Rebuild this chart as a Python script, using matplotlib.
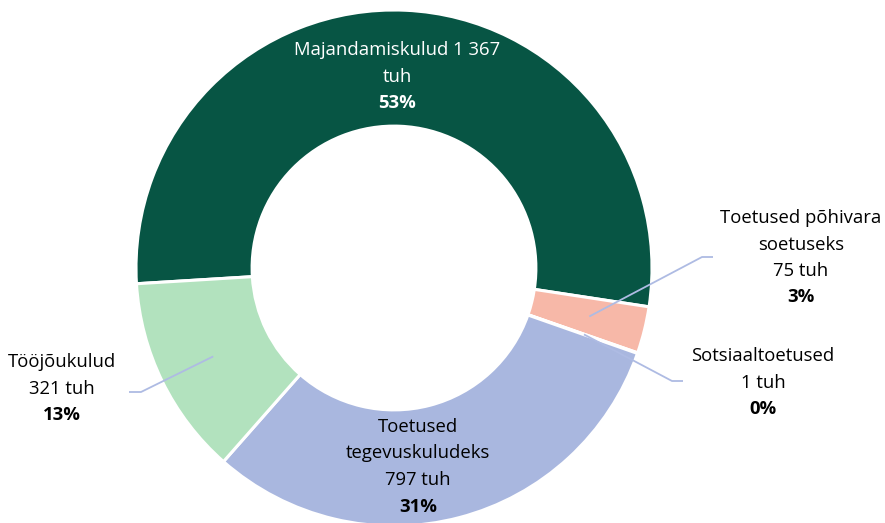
import numpy as np
import matplotlib
matplotlib.use("Agg")
import matplotlib.pyplot as plt

plt.rcParams['font.family'] = ['Open Sans', 'DejaVu Sans']

# ---- data ----
categories = ["Majandamiskulud", "Toetused põhivara soetuseks", "Sotsiaaltoetused",
              "Toetused tegevuskuludeks", "Tööjõukulud"]
values = [1367, 75, 1, 797, 321]
label_texts = ["Majandamiskulud 1 367\ntuh", "Toetused põhivara\nsoetuseks\n75 tuh",
               "Sotsiaaltoetused\n1 tuh", "Toetused\ntegevuskuludeks\n797 tuh",
               "Tööjõukulud\n321 tuh"]
pct_texts = ["53%", "3%", "0%", "31%", "13%"]
colors = ["#075544", "#F7B8A8", "#A9B7DF", "#A9B7DF", "#B2E2BE"]

W, H, DPI = 885, 523, 100
CX, CY, R = 394, 268, 258  # pixel geometry of the donut

fig = plt.figure(figsize=(W / DPI, H / DPI), dpi=DPI)
ax = fig.add_axes([0, 0, 1, 1])

start = 183.5
wedges, _ = ax.pie(values, colors=colors, startangle=start, counterclock=False,
                   radius=1.0, wedgeprops=dict(width=0.45, edgecolor='white', linewidth=2.2))

ax.set_xlim(-CX / R, (W - CX) / R)
ax.set_ylim(-(H - CY) / R, CY / R)
ax.set_aspect('equal')
ax.axis('off')

def d(px, py):
    return (px - CX) / R, (CY - py) / R

fs = 13.3
line_h = 26.5
lead_color = "#AEBBE3"

# label placements (pixel): center x, y of first line, text color, leader
placements = [
    (397, 50, 'white', None),
    (801, 218, 'black', [(702, 257), (713, 257)]),
    (763, 356, 'black', [(672, 381), (683, 381)]),
    (418, 427, 'black', None),
    (62, 362, 'black', [(141, 392), (129, 392)]),
]

for i, (txt, pct, (px, py, col, lead)) in enumerate(zip(label_texts, pct_texts, placements)):
    lines = txt.split("\n")
    for j, ln in enumerate(lines):
        x, y = d(px, py + j * line_h)
        ax.text(x, y, ln, ha='center', va='center', fontsize=fs, color=col)
    x, y = d(px, py + len(lines) * line_h)
    ax.text(x, y, pct, ha='center', va='center', fontsize=fs, color=col, fontweight='bold')
    if lead is not None:
        w = wedges[i]
        mid = np.deg2rad((w.theta1 + w.theta2) / 2)
        r0 = 0.78
        xs = [r0 * np.cos(mid)] + [d(*p)[0] for p in lead]
        ys = [r0 * np.sin(mid)] + [d(*p)[1] for p in lead]
        ax.plot(xs, ys, color=lead_color, lw=1.3, solid_capstyle='butt')

fig.savefig("out.png", dpi=DPI)
